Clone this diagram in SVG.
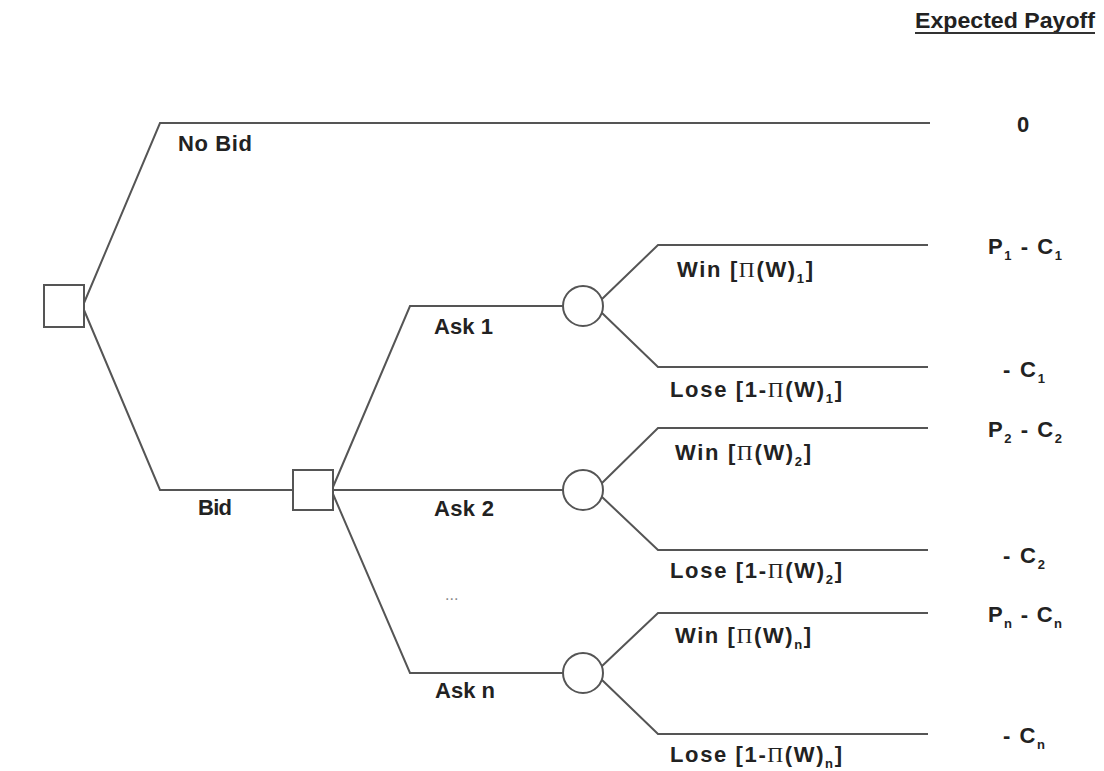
<svg xmlns="http://www.w3.org/2000/svg" width="1104" height="771" viewBox="0 0 1104 771">
<style>
.ln{fill:none;stroke:#555;stroke-width:2;stroke-linejoin:miter}
.nd{fill:#fff;stroke:#555;stroke-width:2}
.t{font-family:"Liberation Sans",Arial,sans-serif;font-weight:bold;font-size:22px;fill:#222}
.pi{font-family:"Liberation Serif","Times New Roman",serif;font-weight:normal}
.sub{font-size:13px}
</style>
<rect width="1104" height="771" fill="#fff"/>
<g id="connectors">
<polyline class="ln" points="84,303 160,123 930,123"/>
<polyline class="ln" points="84,310 160,490 293,490"/>
<polyline class="ln" points="333,487 410,306 563,306"/>
<line class="ln" x1="333" y1="490" x2="563" y2="490"/>
<polyline class="ln" points="333,494 410,673 563,673"/>
<polyline class="ln" points="601,300 658,245 928,245"/>
<polyline class="ln" points="601,312 658,367 928,367"/>
<polyline class="ln" points="601,484 658,428 928,428"/>
<polyline class="ln" points="601,496 658,550 928,550"/>
<polyline class="ln" points="601,667 658,613 928,613"/>
<polyline class="ln" points="601,679 658,734 928,734"/>
</g>
<g id="root"><rect class="nd" x="44" y="285" width="40" height="42"/></g>
<g id="bid-decision"><rect class="nd" x="293" y="470" width="40" height="40"/></g>
<g id="chance1"><circle class="nd" cx="583" cy="306" r="20"/></g>
<g id="chance2"><circle class="nd" cx="583" cy="490" r="20"/></g>
<g id="chancen"><circle class="nd" cx="583" cy="673" r="20"/></g>
<g id="labels">
<text class="t" x="915" y="28" textLength="180" lengthAdjust="spacingAndGlyphs">Expected Payoff</text>
<line x1="915" y1="33" x2="1095" y2="33" stroke="#333" stroke-width="2"/>
<text class="t" x="178" y="151" textLength="74">No Bid</text>
<text class="t" x="198" y="515" textLength="34">Bid</text>
<text class="t" x="434" y="334" textLength="59">Ask 1</text>
<text class="t" x="434" y="516" textLength="60">Ask 2</text>
<text class="t" x="435" y="698" textLength="60">Ask n</text>
<text class="t" x="445" y="600" style="font-size:16px;font-weight:normal;fill:#888">...</text>
<text class="t" x="677" y="277" textLength="136">Win [<tspan class="pi">Π</tspan>(W)<tspan class="sub" dy="6">1</tspan><tspan dy="-6">]</tspan></text>
<text class="t" x="670" y="397" textLength="172">Lose [1-<tspan class="pi">Π</tspan>(W)<tspan class="sub" dy="6">1</tspan><tspan dy="-6">]</tspan></text>
<text class="t" x="675" y="460" textLength="136">Win [<tspan class="pi">Π</tspan>(W)<tspan class="sub" dy="6">2</tspan><tspan dy="-6">]</tspan></text>
<text class="t" x="670" y="578" textLength="172">Lose [1-<tspan class="pi">Π</tspan>(W)<tspan class="sub" dy="6">2</tspan><tspan dy="-6">]</tspan></text>
<text class="t" x="675" y="643" textLength="136">Win [<tspan class="pi">Π</tspan>(W)<tspan class="sub" dy="6">n</tspan><tspan dy="-6">]</tspan></text>
<text class="t" x="670" y="762" textLength="172">Lose [1-<tspan class="pi">Π</tspan>(W)<tspan class="sub" dy="6">n</tspan><tspan dy="-6">]</tspan></text>
<text class="t" x="1017" y="132">0</text>
<text class="t" x="988" y="254" textLength="74">P<tspan class="sub" dy="6">1</tspan><tspan dy="-6"> - C</tspan><tspan class="sub" dy="6">1</tspan></text>
<text class="t" x="1003" y="377" textLength="42">- C<tspan class="sub" dy="6">1</tspan></text>
<text class="t" x="988" y="437" textLength="74">P<tspan class="sub" dy="6">2</tspan><tspan dy="-6"> - C</tspan><tspan class="sub" dy="6">2</tspan></text>
<text class="t" x="1003" y="563" textLength="42">- C<tspan class="sub" dy="6">2</tspan></text>
<text class="t" x="988" y="622" textLength="74">P<tspan class="sub" dy="6">n</tspan><tspan dy="-6"> - C</tspan><tspan class="sub" dy="6">n</tspan></text>
<text class="t" x="1003" y="743" textLength="42">- C<tspan class="sub" dy="6">n</tspan></text>
</g>
</svg>
